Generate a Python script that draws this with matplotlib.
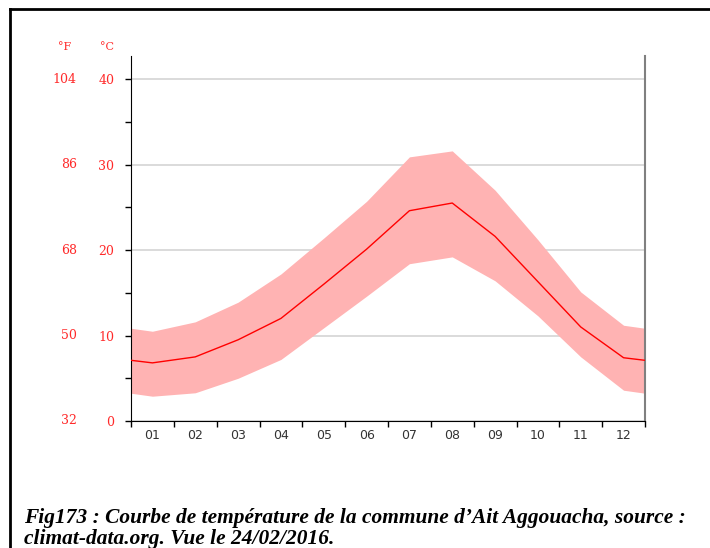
import matplotlib.pyplot as plt
import numpy as np

# Monthly climate normals (°C)
months = ['01', '02', '03', '04', '05', '06', '07', '08', '09', '10', '11', '12']
t_mean = [6.8, 7.5, 9.5, 12.0, 16.0, 20.1, 24.6, 25.5, 21.6, 16.3, 11.0, 7.4]
t_max = [10.5, 11.6, 13.9, 17.2, 21.4, 25.7, 30.9, 31.6, 27.0, 21.2, 15.1, 11.2]
t_min = [2.9, 3.3, 5.0, 7.2, 10.9, 14.6, 18.4, 19.2, 16.4, 12.3, 7.5, 3.6]
c_ticks = [0, 10, 20, 30, 40]
caption = ("Fig173 : Courbe de température de la commune d’Ait Aggouacha, source :\n"
           "climat-data.org. Vue le 24/02/2016.")

RED = '#ff2a2a'
BAND = '#ffb3b3'


def wrap(vals):
    # December before January and January after December so the curve runs to the edges
    return [vals[-1]] + list(vals) + [vals[0]]


fig = plt.figure(figsize=(7.10, 5.48), dpi=100)
ax = fig.add_axes([131 / 710, 1 - 421 / 548, 514 / 710, 365 / 548])

x = np.arange(-1, 13)
ax.fill_between(x, wrap(t_min), wrap(t_max), color=BAND, linewidth=0, zorder=2)
ax.plot(x, wrap(t_mean), color='#ff0000', linewidth=1.0, zorder=3)

ax.set_xlim(-0.5, 11.5)
ax.set_ylim(0, 42.7)

# Month boundaries carry the tick marks, labels sit in the middle
ax.set_xticks(np.arange(-0.5, 12, 1))
ax.set_xticklabels([])
ax.set_xticks(np.arange(12), minor=True)
ax.set_xticklabels(months, minor=True, fontsize=9, color='#333333', family='DejaVu Sans')
ax.tick_params(axis='x', which='major', length=4, width=1, direction='out')
ax.tick_params(axis='x', which='minor', length=0, pad=6)

ax.set_yticks(c_ticks)
ax.set_yticks(np.arange(5, 40, 10), minor=True)
ax.set_yticklabels([str(c) for c in c_ticks], color=RED, fontsize=9, family='DejaVu Serif')
ax.tick_params(axis='y', which='both', length=4, width=1, direction='out', pad=8)
ax.grid(axis='y', which='major', color='#d4d4d4', linewidth=1.2, zorder=1)
ax.set_axisbelow(True)

# Fahrenheit column to the left of the Celsius labels
for c in c_ticks:
    f = round(c * 9 / 5 + 32)
    ax.annotate(str(f), xy=(0, c), xycoords=('axes fraction', 'data'),
                xytext=(-39, 0), textcoords='offset points', ha='right', va='center',
                color=RED, fontsize=9, family='DejaVu Serif')
ax.annotate('°C', xy=(0, 1), xycoords='axes fraction', xytext=(-12, 3),
            textcoords='offset points', ha='right', va='bottom', color=RED,
            fontsize=8, family='DejaVu Serif')
ax.annotate('°F', xy=(0, 1), xycoords='axes fraction', xytext=(-43, 3),
            textcoords='offset points', ha='right', va='bottom', color=RED,
            fontsize=8, family='DejaVu Serif')

ax.spines['top'].set_visible(False)
ax.spines['left'].set_color('black')
ax.spines['bottom'].set_color('black')
ax.spines['right'].set_color('#808080')
ax.spines['right'].set_linewidth(1.5)

# Document frame around the figure
fig.add_artist(plt.Line2D([10 / 710, 10 / 710], [0, 1 - 9 / 548], transform=fig.transFigure,
                          color='black', linewidth=2, solid_capstyle='projecting'))
fig.add_artist(plt.Line2D([10 / 710, 1], [1 - 9 / 548, 1 - 9 / 548], transform=fig.transFigure,
                          color='black', linewidth=2, solid_capstyle='projecting'))

# Baseline anchor sits on the last caption line
fig.text(24 / 710, 1 - 544 / 548, caption, ha='left', va='baseline', fontsize=15.4,
         family='Liberation Serif', style='italic', weight='bold', linespacing=1.1)

fig.savefig('out.png', dpi=100)
